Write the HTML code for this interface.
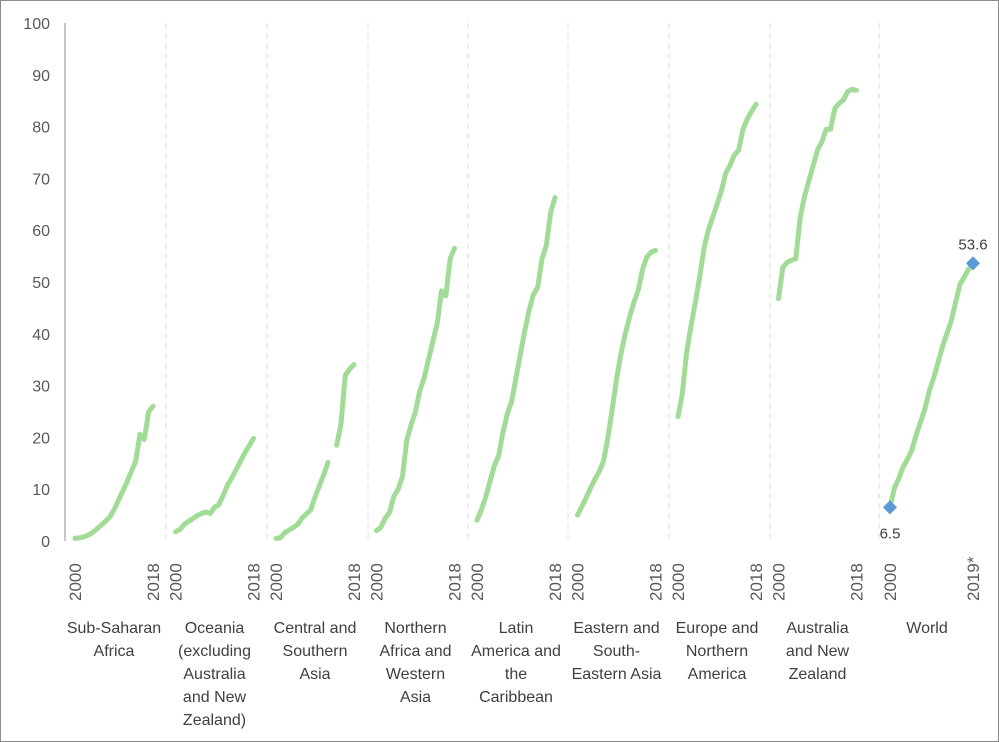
<!DOCTYPE html>
<html><head><meta charset="utf-8"><style>
body{margin:0;background:#fff;font-family:"Liberation Sans",Arial,sans-serif}
svg{display:block}
</style></head><body>
<svg id="chart" width="999" height="742" xmlns="http://www.w3.org/2000/svg">
<rect x="0.5" y="0.5" width="998" height="741" fill="#fff" stroke="#8c8c8c"/>
<g id="grid"></g><g id="axes"></g><g id="series"></g><g id="labels"></g>
</svg>
<script>
const regions = ["Sub-Saharan Africa","Oceania (excluding Australia and New Zealand)","Central and Southern Asia","Northern Africa and Western Asia","Latin America and the Caribbean","Eastern and South-Eastern Asia","Europe and Northern America","Australia and New Zealand","World"];
const regionLines = [["Sub-Saharan","Africa"],["Oceania","(excluding","Australia","and New","Zealand)"],["Central and","Southern","Asia"],["Northern","Africa and","Western","Asia"],["Latin","America and","the","Caribbean"],["Eastern and","South-","Eastern Asia"],["Europe and","Northern","America"],["Australia","and New","Zealand"],["World"]];
const ssa = [0.5,0.6,0.8,1.1,1.6,2.3,3.0,3.8,4.6,6.0,7.8,9.6,11.4,13.4,15.4,20.6,19.6,25.0,26.0];
const oceania = [1.8,2.2,3.2,3.8,4.3,4.9,5.3,5.6,5.3,6.5,7.0,8.8,10.8,12.2,13.8,15.4,17.0,18.4,19.8];
const csAsia = [0.5,0.6,1.6,2.1,2.6,3.2,4.4,5.2,6.0,8.5,10.6,12.8,15.2,null,18.5,22.6,32.0,33.2,34.1];
const nafWas = [2,2.6,4.4,5.5,8.6,10,12.5,19.5,22.5,25,29,31.5,35,38.5,42,48.3,47.3,54.5,56.5];
const latam = [4,6,8.5,11.5,14.5,16.5,21,24.5,27,31.5,36,40.5,44.5,47.5,49,54.5,57,63.5,66.3];
const eseAsia = [5,6.6,8.4,10.2,11.9,13.4,15.4,19.8,25.4,31.2,36,40,43.2,46,48.4,52.4,54.8,55.8,56.1];
const euNa = [24,28.5,36.5,41.5,46,51,56.5,60,62.5,65,67.5,71,72.5,74.5,75.5,79.5,81.5,83,84.3];
const ausNz = [46.8,52.8,53.8,54.2,54.5,62.5,66.5,69.5,72.5,75.5,77,79.5,79.5,83.5,84.5,85.2,86.8,87.2,87];
const world = [6.5,10.2,12,14.3,15.8,17.5,20.5,23,25.5,29,31.5,34.5,37.5,40,42.5,46,49.5,51,52.5,53.6];
const yTicks = [0,10,20,30,40,50,60,70,80,90,100];
const startLabels = ["2000","2000","2000","2000","2000","2000","2000","2000","2000"];
const endLabels = ["2018","2018","2018","2018","2018","2018","2018","2018","2019*"];
const allSeries = [ssa,oceania,csAsia,nafWas,latam,eseAsia,euNa,ausNz,world];

const NS="http://www.w3.org/2000/svg";
function mk(tag,attrs,parent){const e=document.createElementNS(NS,tag);for(const k in attrs)e.setAttribute(k,attrs[k]);parent.appendChild(e);return e;}
const y0=541,y1=23;
function yScale(v){return y0-(v/100)*(y0-y1);}
const gStarts=[75,175.5,276,376.5,477,577.5,678,778.5,890];
const gWidths=[78,78,78,78,78,78,78,78,83];
function xScale(g,i,n){return gStarts[g]+gWidths[g]*i/(n-1);}
const grid=document.getElementById('grid'),axes=document.getElementById('axes'),ser=document.getElementById('series'),lab=document.getElementById('labels');
const seps=[166,267,368,468,568,669,770,879];
seps.forEach((x,i)=>{
 const l=mk('line',{x1:x,x2:x,y1:y1,y2:y0,stroke:'#dcdcdc','stroke-width':1,'stroke-dasharray':'6,4'},grid);
 
 
});
const ax=mk('line',{x1:65,x2:65,y1:y1,y2:y0,stroke:'#8c8c8c','stroke-width':1},axes);


yTicks.forEach(v=>{
 const t=mk('text',{x:50,y:yScale(v)+6,'text-anchor':'end','font-size':16,fill:'#595959'},axes);
 t.textContent=v;
 
 
});
allSeries.forEach((arr,g)=>{
 let d='',pen=false;
 arr.forEach((v,i)=>{
  if(v===null){pen=false;return;}
  d+=(pen?'L':'M')+xScale(g,i,arr.length).toFixed(1)+','+yScale(v).toFixed(1);
  pen=true;
 });
 const p=mk('path',{d:d,fill:'none',stroke:'#a1dc97','stroke-width':5,'stroke-linejoin':'round','stroke-linecap':'round'},ser);
 
 
 const xs=xScale(g,0,arr.length), xe=xScale(g,arr.length-1,arr.length);
 const ts=mk('text',{transform:'translate('+(xs+6)+',601) rotate(-90)','font-size':17,fill:'#595959'},lab);
 ts.textContent=startLabels[g];
 
 
 const te=mk('text',{transform:'translate('+(xe+6)+',601) rotate(-90)','font-size':17,fill:'#595959'},lab);
 te.textContent=endLabels[g];
 
 
 const cx=(g<8)?(gStarts[g]+39):927;
 const ct=mk('text',{x:cx,y:633,'text-anchor':'middle','font-size':16,fill:'#404040'},lab);
 
 
 regionLines[g].forEach((ln,k)=>{const s=mk('tspan',{x:cx,dy:k?23:0},ct);s.textContent=ln;});
});
[[0,'6.5',24],[world.length-1,'53.6',-14]].forEach(([i,txt,dy],k)=>{
 const x=xScale(8,i,world.length),y=yScale(world[i]);
 const m=mk('rect',{x:x-5,y:y-5,width:10,height:10,fill:'#5b9bd5',transform:'rotate(45 '+x+' '+y+')'},ser);
 
 
 const t=mk('text',{x:x,y:y+dy+(dy>0?7:0),'text-anchor':'middle','font-size':15,fill:'#404040'},lab);
 t.textContent=txt;
 
 
});
</script>
</body></html>
